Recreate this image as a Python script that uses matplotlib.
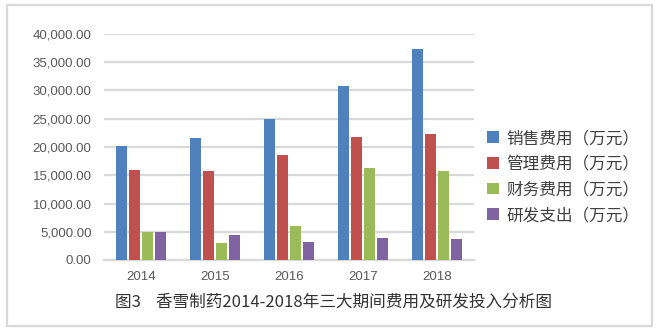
import numpy as np
import matplotlib
matplotlib.use("Agg")
import matplotlib.pyplot as plt
from matplotlib.patches import Rectangle

plt.rcParams['font.family'] = ['Noto Sans CJK SC', 'DejaVu Sans']

# data (万元)
years = ['2014', '2015', '2016', '2017', '2018']
sales = [20250, 21650, 25030, 30870, 37430]
admin = [16000, 15820, 18650, 21840, 22370]
finance = [5020, 3070, 6080, 16350, 15820]
rnd = [5000, 4490, 3250, 3960, 3780]
series_names = ['销售费用（万元）', '管理费用（万元）', '财务费用（万元）', '研发支出（万元）']
colors = ['#4F81BD', '#C0504D', '#9BBB59', '#8064A2']
title = '图3    香雪制药2014-2018年三大期间费用及研发投入分析图'

W, H = 665, 335
fig = plt.figure(figsize=(W / 100, H / 100), dpi=100)
ax = fig.add_axes([104 / W, 1 - 260 / H, (474 - 104) / W, (260 - 34) / H])

x = np.arange(len(years))
width = 0.15
step = 0.172
for i, (vals, name, c) in enumerate(zip([sales, admin, finance, rnd], series_names, colors)):
    ax.bar(x + (i - 1.5) * step, vals, width, color=c, label=name, zorder=3)

ax.set_xlim(-0.5, len(years) - 0.5)
ax.set_ylim(0, 40000)
ax.set_yticks(np.arange(0, 40001, 5000))
ax.set_yticklabels(['{:,.2f}'.format(v) for v in np.arange(0, 40001, 5000)],
                   family='Liberation Sans', fontsize=9.5, color='#595959')
ax.set_xticks(x)
ax.set_xticklabels(years, family='Liberation Sans', fontsize=9.5, color='#595959')
ax.tick_params(axis='y', length=0, pad=9)
ax.tick_params(axis='x', length=0, pad=8)

ax.grid(axis='y', color='#d9d9d9', linewidth=1.6, zorder=0)
ax.set_axisbelow(True)
for s in ['top', 'right', 'left']:
    ax.spines[s].set_visible(False)
ax.spines['bottom'].set_color('#d9d9d9')
ax.spines['bottom'].set_linewidth(1.6)

fig.legend(loc='center left', bbox_to_anchor=(472 / W, 1 - 177 / H),
           frameon=False, fontsize=12, handlelength=0.7, handleheight=0.7,
           handletextpad=0.45, labelspacing=0.52, labelcolor='#404040')

fig.text(115 / W, 1 - 302 / H, title, fontsize=12, color='#333333',
         ha='left', va='center')

# light border round the whole chart
fig.patches.append(Rectangle((7 / W, 1 - 326 / H), (652 - 7) / W, (326 - 5) / H,
                             transform=fig.transFigure, fill=False,
                             edgecolor='#d9d9d9', linewidth=1.6))

fig.savefig('out.png', dpi=100)
